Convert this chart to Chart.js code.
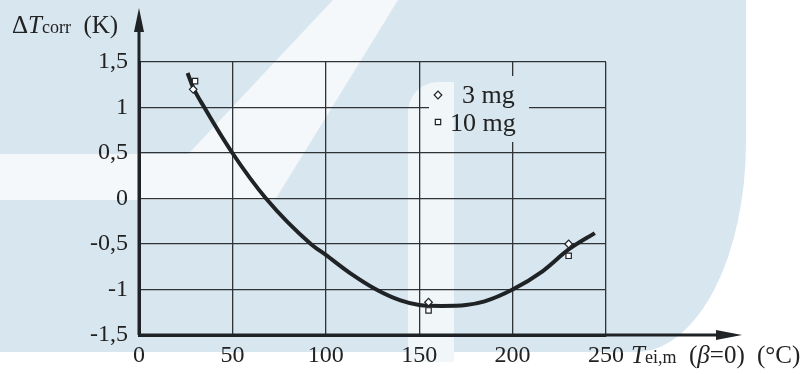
<!DOCTYPE html>
<html>
<head>
<meta charset="utf-8">
<script src="https://cdn.jsdelivr.net/npm/chart.js@4"></script>
<style>
  body { margin: 0; width: 808px; height: 374px; overflow: hidden; background: #fff; position: relative; }
  .bg { position: absolute; }
  #chartBox { position: absolute; left: 0; top: 0; width: 808px; height: 374px; }
  .lbl { position: absolute; font-family: "Liberation Serif", serif; color: #222; white-space: nowrap; line-height: 24px; font-size: 25px; }
  .sm { font-size: 18px; }
</style>
</head>
<body>
<!-- faint watermark shapes behind the chart -->
<div class="bg" style="left:0;top:0;width:746px;height:352px;background:#d8e6ef;border-bottom-right-radius:110px 210px;"></div>
<div class="bg" style="left:0;top:0;width:808px;height:352px;background:#f4f8fb;clip-path:polygon(333px 0,398px 0,275px 200px,145px 200px);"></div>
<div class="bg" style="left:0;top:154px;width:200px;height:46px;background:#f4f8fb;"></div>
<div class="bg" style="left:408px;top:82px;width:46px;height:280px;background:#f1f6f9;border-top-left-radius:30px;"></div>

<div id="chartBox"><canvas id="chart" width="808" height="374"></canvas></div>

<div class="lbl" style="left:12px;top:13px;">Δ<i>T</i><span class="sm">corr</span>&nbsp; (K)</div>
<div class="lbl" style="left:631px;top:343px;"><i>T</i><span class="sm">ei,m</span></div>
<div class="lbl" style="left:689px;top:343px;">(<i>β</i>=0)</div>
<div class="lbl" style="left:757px;top:343px;">(°C)</div>

<script>
// curve
const curveX = [26, 29, 35, 50, 68, 92, 100, 113, 127, 140, 150, 162, 175, 185, 200, 216, 230, 244];
const curveY = [1.38, 1.22, 1.0, 0.5, 0.0, -0.5, -0.62, -0.82, -1.0, -1.12, -1.17, -1.18, -1.17, -1.13, -1.0, -0.8, -0.56, -0.38];

// measured points
const x3mg = [29, 155, 230];
const y3mg = [1.2, -1.14, -0.5];
const x10mg = [30, 155, 230];
const y10mg = [1.29, -1.23, -0.63];

const xTickLabels = ["0", "50", "100", "150", "200", "250"];
const yTickLabels = ["-1,5", "-1", "-0,5", "0", "0,5", "1", "1,5"];
const legendLabels = ["3 mg", "10 mg"];

const ink = "#1f2326";
const gridInk = "#2e3337";
const tickFont = { family: "Liberation Serif", size: 24 };

const toPts = (xs, ys) => xs.map((x, i) => ({ x: x, y: ys[i] }));

// axis arrows + legend drawn on top of the plot
const decor = {
    id: "decor",
    beforeDatasetsDraw(chart) {
        // legend sits on a clear patch of the grid
        chart.ctx.clearRect(429, 76, 100, 66);
    },
    afterDraw(chart) {
        const ctx = chart.ctx;
        const a = chart.chartArea;
        ctx.save();
        ctx.strokeStyle = ink;
        ctx.fillStyle = ink;
        ctx.lineWidth = 3;
        ctx.beginPath();
        ctx.moveTo(a.left, a.bottom);
        ctx.lineTo(a.left, 24);
        ctx.moveTo(a.left, a.bottom);
        ctx.lineTo(720, a.bottom);
        ctx.stroke();
        ctx.beginPath();
        ctx.moveTo(a.left, 8);
        ctx.lineTo(a.left - 5, 32);
        ctx.lineTo(a.left + 5, 32);
        ctx.closePath();
        ctx.fill();
        ctx.beginPath();
        ctx.moveTo(742, a.bottom);
        ctx.lineTo(716, a.bottom - 5);
        ctx.lineTo(716, a.bottom + 5);
        ctx.closePath();
        ctx.fill();

        // legend
        const styles = ["rectRot", "rect"];
        const rows = [95, 122];
        const textX = [462, 450];
        const baseY = [103, 131];
        ctx.font = "26px 'Liberation Serif'";
        ctx.textBaseline = "alphabetic";
        legendLabels.forEach((txt, i) => {
            ctx.fillStyle = "#fff";
            ctx.strokeStyle = ink;
            ctx.lineWidth = 1.2;
            Chart.helpers.drawPoint(ctx, { pointStyle: styles[i], radius: 3.8, borderWidth: 1.2 }, 438, rows[i]);
            ctx.fillStyle = "#222";
            ctx.fillText(txt, textX[i], baseY[i]);
        });
        ctx.restore();
    }
};

new Chart(document.getElementById("chart"), {
    type: "scatter",
    data: {
        datasets: [
            {
                label: legendLabels[0],
                data: toPts(x3mg, y3mg),
                pointStyle: "rectRot",
                pointRadius: 3.8,
                borderWidth: 1.2,
                borderColor: ink,
                backgroundColor: "#fff",
                order: 0
            },
            {
                label: legendLabels[1],
                data: toPts(x10mg, y10mg),
                pointStyle: "rect",
                pointRadius: 3.8,
                borderWidth: 1.2,
                borderColor: ink,
                backgroundColor: "#fff",
                order: 0
            },
            {
                label: "curve",
                data: toPts(curveX, curveY),
                showLine: true,
                cubicInterpolationMode: "monotone",
                borderColor: ink,
                borderWidth: 4,
                pointRadius: 0,
                order: 1
            }
        ]
    },
    options: {
        responsive: false,
        animation: false,
        layout: { padding: { left: 0, right: 202, top: 62, bottom: 0 } },
        plugins: { legend: { display: false }, tooltip: { enabled: false } },
        scales: {
            x: {
                type: "linear",
                min: 0,
                max: 250,
                afterFit: (s) => { s.height = 39; },
                afterBuildTicks: (s) => { s.ticks = xTickLabels.map((_, i) => ({ value: i * 50 })); },
                ticks: {
                    font: tickFont,
                    color: "#222",
                    padding: 6,
                    maxRotation: 0,
                    callback: (v, i) => xTickLabels[i]
                },
                grid: { color: gridInk, lineWidth: 1.3, drawTicks: false },
                border: { display: true, color: ink, width: 3 }
            },
            y: {
                min: -1.5,
                max: 1.5,
                afterFit: (s) => { s.width = 139; },
                afterBuildTicks: (s) => { s.ticks = yTickLabels.map((_, i) => ({ value: -1.5 + i * 0.5 })); },
                ticks: {
                    font: tickFont,
                    color: "#222",
                    padding: 11,
                    callback: (v, i) => yTickLabels[i]
                },
                grid: { color: gridInk, lineWidth: 1.3, drawTicks: false },
                border: { display: true, color: ink, width: 3 }
            }
        }
    },
    plugins: [decor]
});
</script>
</body>
</html>
